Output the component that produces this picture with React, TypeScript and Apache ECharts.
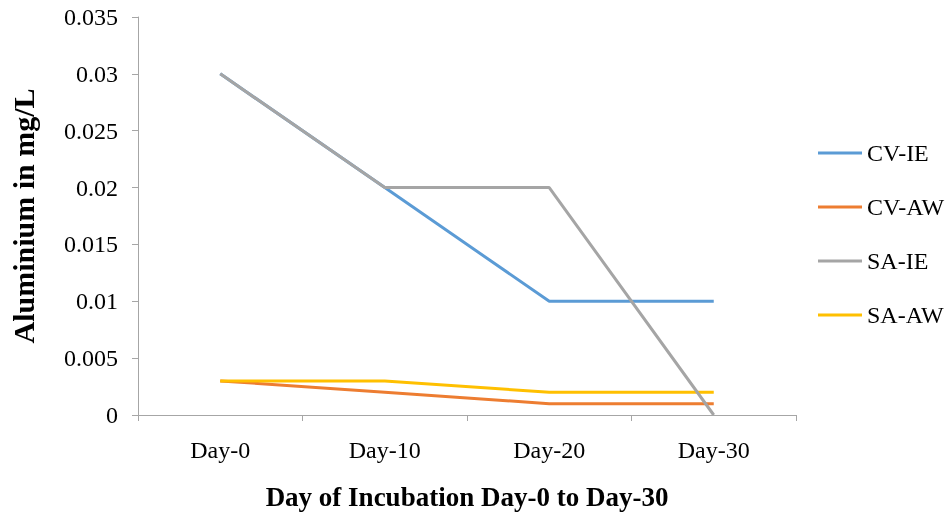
import React, { useEffect, useRef } from "react";
import * as echarts from "echarts";

const categories = ["Day-0", "Day-10", "Day-20", "Day-30"];
const cvIE = [0.03, 0.02, 0.01, 0.01];
const cvAW = [0.003, 0.002, 0.001, 0.001];
const saIE = [0.03, 0.02, 0.02, 0];
const saAW = [0.003, 0.003, 0.002, 0.002];
const seriesNames = ["CV-IE", "CV-AW", "SA-IE", "SA-AW"];
const colors = ["#5B9BD5", "#ED7D31", "#A5A5A5", "#FFC000"];

export default function App() {
  const ref = useRef<HTMLDivElement>(null);
  useEffect(() => {
    const chart = echarts.init(ref.current!, null, { renderer: "svg" });
    const font = "Liberation Serif";
    const data = [cvIE, cvAW, saIE, saAW];
    chart.setOption({
      animation: false,
      textStyle: { fontFamily: font },
      grid: { left: 137, right: 155, top: 17, bottom: 88, containLabel: false },
      legend: {
        orient: "vertical",
        left: 813,
        top: 136,
        itemWidth: 44,
        itemHeight: 3,
        itemGap: 30,
        icon: "rect",
        data: seriesNames,
        textStyle: { fontFamily: font, fontSize: 24, color: "#000" },
      },
      xAxis: {
        type: "category",
        data: categories,
        boundaryGap: true,
        axisLine: { lineStyle: { color: "#A6A6A6", width: 1 } },
        axisTick: { show: true, length: 6, lineStyle: { color: "#A6A6A6" } },
        axisLabel: { color: "#000", fontSize: 24, fontFamily: font, margin: 23 },
        name: "Day of Incubation Day-0 to Day-30",
        nameLocation: "middle",
        nameGap: 68,
        nameTextStyle: { fontSize: 27, fontWeight: "bold", color: "#000", fontFamily: font },
      },
      yAxis: {
        type: "value",
        min: 0,
        max: 0.035,
        interval: 0.005,
        splitLine: { show: false },
        axisLine: { show: true, lineStyle: { color: "#A6A6A6", width: 1 } },
        axisTick: { show: true, length: 6, lineStyle: { color: "#A6A6A6" } },
        axisLabel: {
          color: "#000",
          fontSize: 24,
          fontFamily: font,
          margin: 20,
          formatter: (v: number) => String(+v.toFixed(3)),
        },
        name: "Aluminium in mg/L",
        nameLocation: "middle",
        nameGap: 100,
        nameRotate: 90,
        nameTextStyle: { fontSize: 30, fontWeight: "bold", color: "#000", fontFamily: font },
      },
      series: seriesNames.map((name, i) => ({
        name,
        type: "line",
        data: data[i],
        symbol: "none",
        z: name === "SA-IE" ? 5 : 2,
        lineStyle: { color: colors[i], width: 3 },
        itemStyle: { color: colors[i] },
      })),
    });
    return () => chart.dispose();
  }, []);
  return (
    <div
      ref={ref}
      style={{ position: "fixed", left: 0, top: 0, width: 951, height: 515 }}
    />
  );
}
